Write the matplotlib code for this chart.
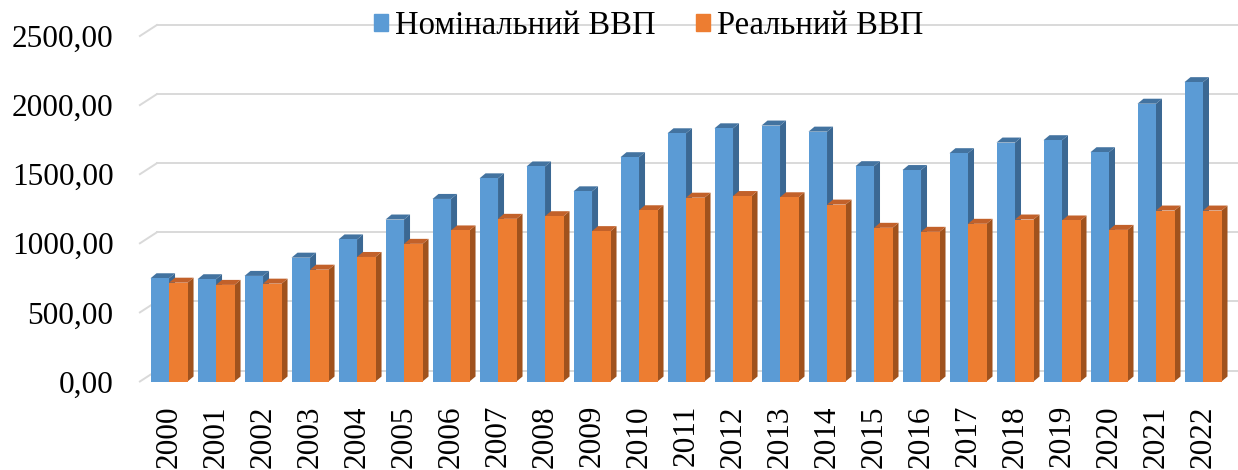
import numpy as np
import matplotlib.pyplot as plt
from matplotlib.patches import Polygon, Patch
from matplotlib.ticker import FuncFormatter

plt.rcParams['font.family'] = ['Liberation Serif', 'DejaVu Serif']

years = [str(y) for y in range(2000, 2023)]
nominal = [747, 740, 764, 896, 1028, 1172, 1321, 1470, 1556, 1376, 1623, 1796,
           1832, 1852, 1808, 1558, 1530, 1652, 1729, 1746, 1659, 2010, 2166]
real = [715, 699, 708, 809, 901, 996, 1093, 1177, 1196, 1088, 1239, 1330,
        1342, 1333, 1280, 1112, 1083, 1141, 1172, 1165, 1097, 1237, 1237]
labels = ['Номінальний ВВП', 'Реальний ВВП']

blue = ('#5b9bd5', '#3b6893', '#4373a0')    # front, side, top
orange = ('#ed7d31', '#a0521d', '#c2612a')

W, H = 1238, 470
fig = plt.figure(figsize=(W / 100, H / 100), dpi=100)
ax_w, ax_h = 1091.3, 345.5
ax = fig.add_axes([139.9 / W, (H - 381.5) / H, ax_w / W, ax_h / H])
ax.set_xlim(-0.62, 22.6)
ax.set_ylim(0, 2500)

# pixel -> data conversion (axes is fixed, so this is constant)
ppx = ax_w / 23.22
ppy = ax_h / 2500


def px(dx, dy):
    return dx / ppx, dy / ppy


# back wall gridlines with depth offset
gx, gy = px(17, 11)
for v in np.arange(0, 2501, 500):
    ax.plot([-0.62 + gx, 22.9], [v + gy, v + gy], color='#d9d9d9', lw=1.4,
            clip_on=False, zorder=0)
    ax.plot([-0.62, -0.62 + gx], [v, v + gy], color='#d9d9d9', lw=1.4,
            clip_on=False, zorder=0)

x = np.arange(len(years))
w = 18.5 / ppx
bx, by = px(6, 5)


def extrude(x0, h, cols):
    ax.add_patch(Polygon([(x0 + w, 0), (x0 + w + bx, by), (x0 + w + bx, h + by), (x0 + w, h)],
                         closed=True, fc=cols[1], ec='none', zorder=2))
    ax.add_patch(Polygon([(x0, h), (x0 + bx, h + by), (x0 + w + bx, h + by), (x0 + w, h)],
                         closed=True, fc=cols[2], ec='none', zorder=2))


for i in range(len(years)):
    extrude(x[i] - w, nominal[i], blue)
    ax.bar(x[i] - w, nominal[i], w, align='edge', color=blue[0], zorder=2)
    extrude(x[i], real[i], orange)
    ax.bar(x[i], real[i], w, align='edge', color=orange[0], zorder=2)

for s in ax.spines.values():
    s.set_visible(False)
ax.set_yticks(np.arange(0, 2501, 500))
ax.yaxis.set_major_formatter(FuncFormatter(lambda v, p: f'{v:.2f}'.replace('.', ',')))
ax.set_xticks(x)
ax.set_xticklabels(years, rotation=90)
ax.tick_params(axis='y', length=0, pad=19, labelsize=22.5)
ax.tick_params(axis='x', length=0, pad=17, labelsize=22.5)

handles = [Patch(color=blue[0]), Patch(color=orange[0])]
fig.legend(handles, labels, loc='center', bbox_to_anchor=(0.524, 0.945), ncol=2,
           frameon=False, fontsize=23.5, handlelength=0.43, handleheight=0.43,
           handletextpad=0.2, columnspacing=1.25, borderpad=0.1)

fig.savefig('out.png', dpi=100)
